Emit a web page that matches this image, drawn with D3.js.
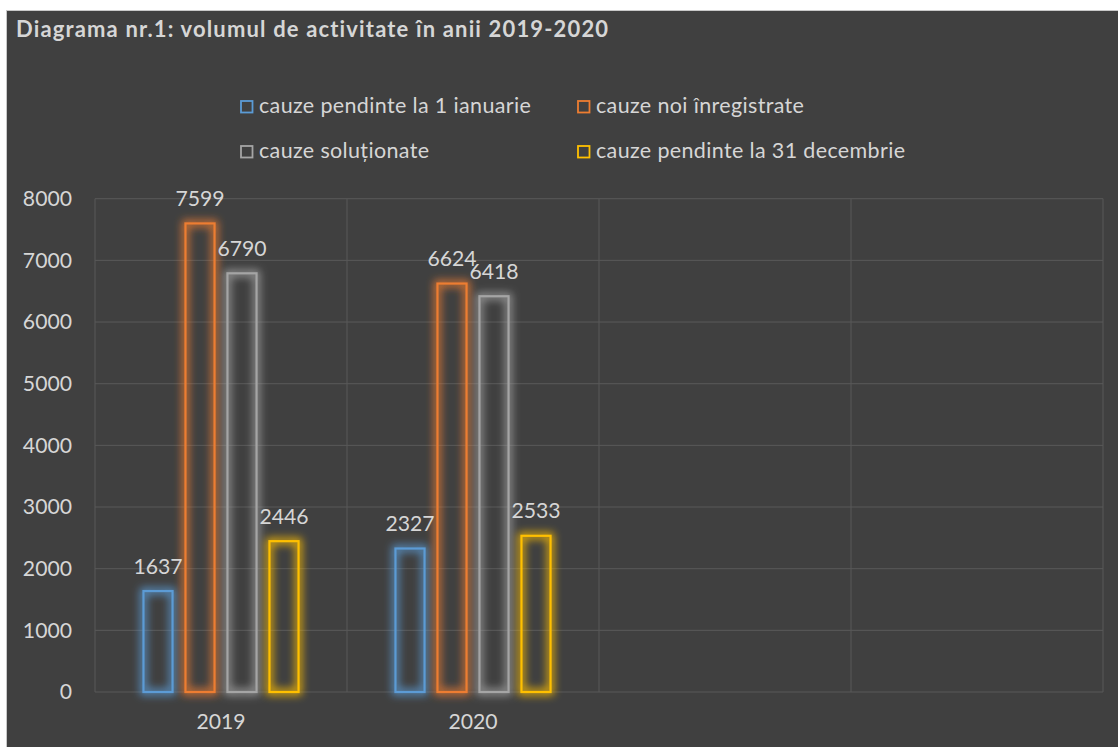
<!DOCTYPE html>
<html>
<head>
<meta charset="utf-8">
<script src="https://cdn.jsdelivr.net/npm/d3@7/dist/d3.min.js"></script>
<style>
  html, body { margin: 0; padding: 0; background: #ffffff; }
  svg { display: block; }
  text { font-family: Lato, "Open Sans", sans-serif; }
</style>
</head>
<body>
<svg id="chart" width="1118" height="747"></svg>
<script>
// ---- data ----
const title = "Diagrama nr.1: volumul de activitate în anii 2019-2020";
const categories = ["2019", "2020", "", ""];
const seriesNames = [
  "cauze pendinte la 1 ianuarie",
  "cauze noi înregistrate",
  "cauze soluționate",
  "cauze pendinte la 31 decembrie"
];
const seriesColors = ["#5B9BD5", "#ED7D31", "#A5A5A5", "#FFC000"];
const pendinteIanuarie = [1637, 2327, null, null];
const noiInregistrate = [7599, 6624, null, null];
const solutionate = [6790, 6418, null, null];
const pendinteDecembrie = [2446, 2533, null, null];
const yTicks = [0, 1000, 2000, 3000, 4000, 5000, 6000, 7000, 8000];

const seriesValues = [pendinteIanuarie, noiInregistrate, solutionate, pendinteDecembrie];

// ---- layout ----
const svg = d3.select("#chart");
const W = 1118, H = 747;
const textColor = "#d6d6d6";
const gridColor = "#595959";

svg.append("rect").attr("x", 0).attr("y", 0).attr("width", W).attr("height", H).attr("fill", "#ffffff");
svg.append("rect").attr("x", 6.5).attr("y", 10.5).attr("width", W).attr("height", H)
  .attr("fill", "#404040").attr("stroke", "#c8c8c8").attr("stroke-width", 1);

// glow filter
const defs = svg.append("defs");
const f = defs.append("filter").attr("id", "glow")
  .attr("x", "-60%").attr("y", "-20%").attr("width", "220%").attr("height", "140%");
f.append("feMorphology").attr("in", "SourceGraphic").attr("operator", "dilate").attr("radius", 1.5).attr("result", "thick");
f.append("feGaussianBlur").attr("in", "thick").attr("stdDeviation", 4).attr("result", "blur");
const ct = f.append("feComponentTransfer").attr("in", "blur").attr("result", "soft");
ct.append("feFuncA").attr("type", "linear").attr("slope", 0.9);
const m = f.append("feMerge");
m.append("feMergeNode").attr("in", "soft");
m.append("feMergeNode").attr("in", "SourceGraphic");

// title
svg.append("text").attr("x", 16).attr("y", 37)
  .attr("fill", textColor).attr("font-weight", "bold").attr("font-size", 22)
  .attr("letter-spacing", 1.15)
  .text(title);

// scales
const plotL = 95, plotR = 1103, plotT = 198.7, plotB = 692;
const x0 = d3.scaleBand().domain(d3.range(categories.length)).range([plotL, plotR]).padding(0);
const x1 = d3.scaleBand().domain(d3.range(seriesNames.length)).range([0, x0.bandwidth()])
  .paddingInner(0.26).paddingOuter(1.13);
const y = d3.scaleLinear().domain([0, 8000]).range([plotB, plotT]);

// gridlines
const grid = svg.append("g");
grid.selectAll("line.h").data(yTicks).join("line")
  .attr("x1", plotL).attr("x2", plotR)
  .attr("y1", d => y(d)).attr("y2", d => y(d))
  .attr("stroke", gridColor).attr("stroke-width", 1);
const vLines = d3.range(categories.length + 1).map(i => i < categories.length ? x0(i) : plotR);
grid.selectAll("line.v").data(vLines).join("line")
  .attr("x1", d => d).attr("x2", d => d)
  .attr("y1", plotT).attr("y2", plotB)
  .attr("stroke", gridColor).attr("stroke-width", 1);

// y axis labels
const yAxis = d3.axisLeft(y).tickValues(yTicks).tickSize(0).tickPadding(0).tickFormat(d3.format("d"));
const yg = svg.append("g").attr("transform", `translate(72,0)`).call(yAxis);
yg.select(".domain").remove();
yg.selectAll("text").attr("fill", textColor).attr("font-size", 21.2).attr("font-family", "Lato, sans-serif");

// x axis labels
const xAxis = d3.axisBottom(x0).tickSize(0).tickPadding(0).tickFormat(i => categories[i]);
const xg = svg.append("g").attr("transform", `translate(0,${plotB + 22})`).call(xAxis);
xg.select(".domain").remove();
xg.selectAll("text").attr("fill", textColor).attr("font-size", 21.2).attr("font-family", "Lato, sans-serif");

// bars
const rows = [];
categories.forEach((c, ci) => {
  seriesValues.forEach((vals, si) => {
    if (vals[ci] != null) rows.push({ ci, si, v: vals[ci] });
  });
});
const bars = svg.append("g");
bars.selectAll("rect").data(rows).join("rect")
  .attr("x", d => x0(d.ci) + x1(d.si) + 1)
  .attr("y", d => y(d.v))
  .attr("width", x1.bandwidth() - 2)
  .attr("height", d => y(0) - y(d.v))
  .attr("fill", "none")
  .attr("stroke", d => seriesColors[d.si])
  .attr("stroke-width", 2.2)
  .attr("filter", "url(#glow)");

// data labels
svg.append("g").selectAll("text").data(rows).join("text")
  .attr("x", d => x0(d.ci) + x1(d.si) + x1.bandwidth() / 2)
  .attr("y", d => y(d.v) - 17.5)
  .attr("text-anchor", "middle")
  .attr("fill", textColor).attr("font-size", 21.2)
  .text(d => d.v);

// legend
const legendPos = [[240, 100], [577, 100], [240, 145], [577, 145]];
const lg = svg.append("g");
const items = lg.selectAll("g").data(seriesNames).join("g")
  .attr("transform", (d, i) => `translate(${legendPos[i][0]},${legendPos[i][1]})`);
items.append("rect").attr("x", 1).attr("y", 1).attr("width", 11.5).attr("height", 11.5)
  .attr("fill", "none").attr("stroke", (d, i) => seriesColors[i]).attr("stroke-width", 1.8);
items.append("text").attr("x", 19).attr("y", 12.5)
  .attr("fill", textColor).attr("font-size", 21.5).attr("letter-spacing", 0.35)
  .text(d => d);
</script>
</body>
</html>
